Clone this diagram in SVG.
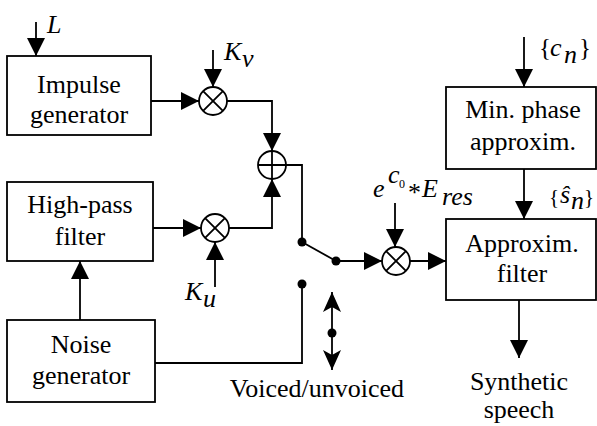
<svg xmlns="http://www.w3.org/2000/svg" width="597" height="426" viewBox="0 0 597 426">
<style>
text{font-family:"Liberation Serif","Times New Roman",serif;fill:#000}
.box{fill:#fff;stroke:#000;stroke-width:1.8}
.op{fill:#fff;stroke:#000;stroke-width:1.8}
.ln{fill:none;stroke:#000;stroke-width:1.8}
.t{font-size:26px;text-anchor:middle}
.m{font-size:26px;font-style:italic}
.dot{fill:#000}
</style>
<defs>
<marker id="ah" markerUnits="userSpaceOnUse" markerWidth="18" markerHeight="18" viewBox="0 0 18 18" refX="18" refY="9" orient="auto">
<path d="M0,0 L18,9 L0,18 z" fill="#000"/>
</marker>
<marker id="ah2" markerUnits="userSpaceOnUse" markerWidth="20" markerHeight="18" viewBox="0 0 20 18" refX="20" refY="9" orient="auto-start-reverse">
<path d="M0,0 L20,9 L0,18 L5,9 z" fill="#000"/>
</marker>
</defs>
<rect width="597" height="426" fill="#fff"/>

<g id="connectors">
<path class="ln" d="M36,22 V56" marker-end="url(#ah)"/>
<path class="ln" d="M151,101 H199" marker-end="url(#ah)"/>
<path class="ln" d="M213,50 V87" marker-end="url(#ah)"/>
<path class="ln" d="M227,101 H272 V151" marker-end="url(#ah)"/>
<path class="ln" d="M153,228 H201" marker-end="url(#ah)"/>
<path class="ln" d="M215,287 V242" marker-end="url(#ah)"/>
<path class="ln" d="M229,228 H272 V179" marker-end="url(#ah)"/>
<path class="ln" d="M80,320 V261" marker-end="url(#ah)"/>
<path class="ln" d="M286,165 H302 V242"/>
<path class="ln" d="M302,242 L336,261" stroke-width="3"/>
<path class="ln" d="M336,261 H382" marker-end="url(#ah)"/>
<path class="ln" d="M395,203 V247" marker-end="url(#ah)"/>
<path class="ln" d="M410,261 H446" marker-end="url(#ah)"/>
<path class="ln" d="M524,37 V87" marker-end="url(#ah)"/>
<path class="ln" d="M524,169 V219" marker-end="url(#ah)"/>
<path class="ln" d="M519,300 V358" marker-end="url(#ah)"/>
<path class="ln" d="M155,363 H302 V284"/>
<path class="ln" d="M332,292 V370" marker-start="url(#ah2)" marker-end="url(#ah2)"/>
<circle class="dot" cx="302" cy="242" r="4.5"/>
<circle class="dot" cx="336" cy="261" r="4.5"/>
<circle class="dot" cx="302" cy="284" r="4.5"/>
<circle class="dot" cx="332" cy="333" r="4.5"/>
</g>

<g id="impulse">
<rect class="box" x="7" y="56" width="144" height="79"/>
<text class="t" x="79" y="93">Impulse</text>
<text class="t" x="79" y="123">generator</text>
</g>
<g id="highpass">
<rect class="box" x="7" y="182" width="146" height="79"/>
<text class="t" x="80" y="213">High-pass</text>
<text class="t" x="80" y="245">filter</text>
</g>
<g id="noise">
<rect class="box" x="7" y="320" width="148" height="82"/>
<text class="t" x="81" y="353">Noise</text>
<text class="t" x="81" y="384">generator</text>
</g>
<g id="minphase">
<rect class="box" x="446" y="87" width="150" height="82"/>
<text class="t" x="523" y="118">Min. phase</text>
<text class="t" x="523" y="150">approxim.</text>
</g>
<g id="approx">
<rect class="box" x="446" y="219" width="150" height="81"/>
<text class="t" x="522" y="252">Approxim.</text>
<text class="t" x="522" y="282">filter</text>
</g>

<g id="mult1">
<circle class="op" cx="213" cy="101" r="14"/>
<path class="ln" d="M203.1,91.1 L222.9,110.9 M222.9,91.1 L203.1,110.9"/>
</g>
<g id="plus">
<circle class="op" cx="272" cy="165" r="14"/>
<path class="ln" d="M258,165 H286 M272,151 V179"/>
</g>
<g id="mult2">
<circle class="op" cx="215" cy="228" r="14"/>
<path class="ln" d="M205.1,218.1 L224.9,237.9 M224.9,218.1 L205.1,237.9"/>
</g>
<g id="mult3">
<circle class="op" cx="396" cy="261" r="14"/>
<path class="ln" d="M386.1,251.1 L405.9,270.9 M405.9,251.1 L386.1,270.9"/>
</g>

<g id="labels">
<text class="m" x="47" y="33">L</text>
<text class="m" x="224" y="60">K</text>
<text class="m" x="242" y="67" font-size="19">v</text>
<text class="m" x="185" y="300">K</text>
<text class="m" x="203" y="307" font-size="19">u</text>
<text class="m" x="373" y="197" font-size="28">e</text>
<text class="m" x="388" y="183" font-size="18">c</text>
<text x="399" y="188" font-size="12">0</text>
<text x="408" y="201" font-size="26">*</text>
<text class="m" x="422" y="197" font-size="28">E</text>
<text class="m" x="442" y="205" font-size="20">res</text>
<text x="539" y="56" font-size="25">{</text>
<text class="m" x="550" y="56" font-size="27">c</text>
<text class="m" x="564" y="63" font-size="19">n</text>
<text x="579" y="56" font-size="25">}</text>
<text x="549" y="204" font-size="21">{</text>
<text class="m" x="560" y="203" font-size="20">ŝ</text>
<text class="m" x="571" y="209" font-size="13">n</text>
<text x="584" y="204" font-size="21">}</text>
<text class="t" x="317" y="397">Voiced/unvoiced</text>
<text class="t" x="519" y="390">Synthetic</text>
<text class="t" x="519" y="418">speech</text>
</g>
</svg>
